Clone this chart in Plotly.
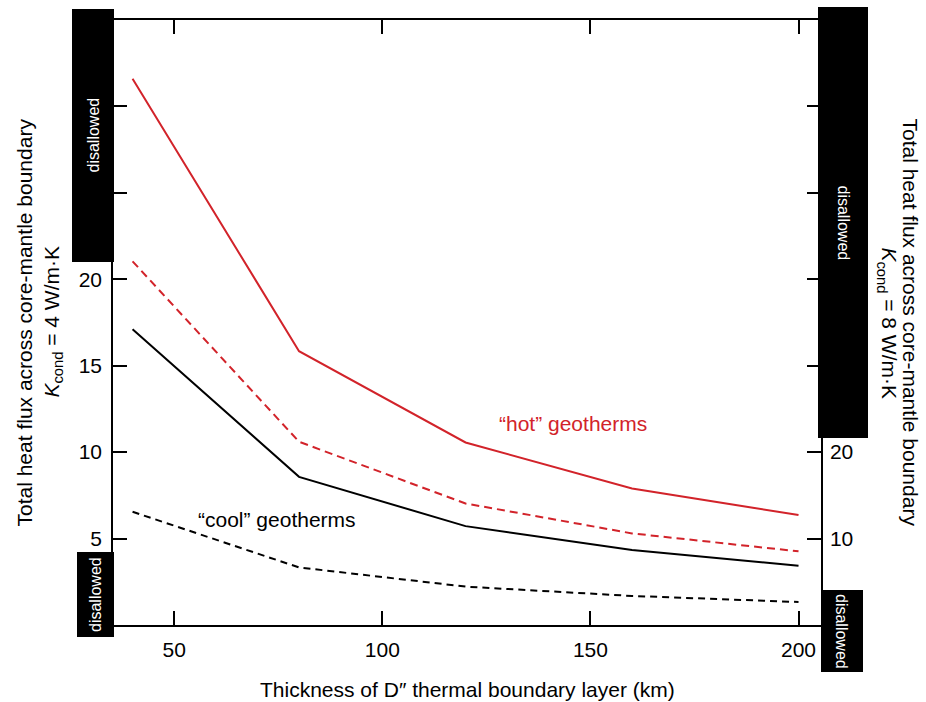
import plotly.graph_objects as go

# D'' layer thickness (km) and total core-mantle boundary heat flux (left-axis units)
thickness_km = [40, 80, 120, 160, 200]
hot_solid = [31.6, 15.84, 10.56, 7.9, 6.36]
hot_dashed = [21.04, 10.6, 7.03, 5.3, 4.26]
cool_solid = [17.11, 8.57, 5.72, 4.34, 3.43]
cool_dashed = [6.55, 3.33, 2.22, 1.68, 1.33]

x_ticks = [50, 100, 150, 200]
left_labeled = [5, 10, 15, 20]
left_unlabeled = [0, 25, 30, 35]
right_labeled = [10, 20]
right_unlabeled = [0, 30, 40, 50, 60, 70]

RED = "#d2232a"
FONT = "Liberation Sans, Arial, Helvetica, sans-serif"

W, H = 926, 702
ML, MR, MT, MB = 113, 105, 20, 77
PW, PH = W - ML - MR, H - MT - MB


def px(xp):
    return (xp - ML) / PW


def py(yp):
    return (H - MB - yp) / PH


fig = go.Figure()

series = [
    (hot_solid, RED, "solid"),
    (hot_dashed, RED, "8px,5px"),
    (cool_solid, "black", "solid"),
    (cool_dashed, "black", "7px,5px"),
]
for vals, color, dash in series:
    fig.add_trace(go.Scatter(
        x=thickness_km, y=vals, mode="lines",
        line=dict(color=color, width=2, dash=dash),
        showlegend=False, hoverinfo="skip",
    ))

# invisible trace so the secondary (right) axis is drawn
fig.add_trace(go.Scatter(x=[thickness_km[0]], y=[None], yaxis="y2",
                         showlegend=False, hoverinfo="skip"))

TICKLEN, TICKW = 14, 1.5
axis_common = dict(
    showgrid=False, zeroline=False, showline=True, linecolor="black",
    linewidth=1.5, ticks="inside", ticklen=TICKLEN, tickwidth=TICKW,
    tickcolor="black", tickfont=dict(family=FONT, size=21, color="black"),
)


def unlabeled(vals):
    return dict(tickmode="array", tickvals=vals, ticks="inside",
                ticklen=TICKLEN, tickwidth=TICKW, tickcolor="black",
                showgrid=False)


fig.update_layout(
    width=W, height=H,
    margin=dict(l=ML, r=MR, t=MT, b=MB),
    paper_bgcolor="white", plot_bgcolor="white",
    font=dict(family=FONT, color="black"),
    xaxis=dict(range=[35.3, 205.4], tickvals=x_ticks, mirror="ticks",
               ticklabelstandoff=5, **axis_common),
    yaxis=dict(range=[0, 35], tickvals=left_labeled,
               minor=unlabeled(left_unlabeled),
               ticklabelstandoff=5, **axis_common),
    yaxis2=dict(range=[0, 70], tickvals=right_labeled,
                minor=unlabeled(right_unlabeled),
                overlaying="y", side="right", ticklabelstandoff=3,
                **axis_common),
)

# "disallowed" regions beyond the axes
boxes = [
    (72, 114, 9, 262, -90),
    (77, 114, 552, 637, -90),
    (818, 868, 7, 438, 90),
    (821, 863, 590, 672, 90),
]
for x0, x1, y0, y1, ang in boxes:
    fig.add_shape(type="rect", xref="paper", yref="paper",
                  x0=px(x0), x1=px(x1), y0=py(y1), y1=py(y0),
                  fillcolor="black", line=dict(width=0), layer="above")
    fig.add_annotation(xref="paper", yref="paper",
                       x=px((x0 + x1) / 2), y=py((y0 + y1) / 2),
                       text="disallowed", textangle=ang, showarrow=False,
                       font=dict(family=FONT, size=16, color="white"),
                       xanchor="center", yanchor="middle")

# axis titles
title_font = dict(family=FONT, size=21, color="black")
fig.add_annotation(xref="paper", yref="paper", x=px(24), y=0.5,
                   text="Total heat flux across core-mantle boundary",
                   textangle=-90, showarrow=False, font=title_font,
                   xanchor="center", yanchor="middle")
fig.add_annotation(xref="paper", yref="paper", x=px(52), y=0.5,
                   text="<i>K</i><sub>cond</sub> = 4 W/m·K",
                   textangle=-90, showarrow=False, font=title_font,
                   xanchor="center", yanchor="middle")
fig.add_annotation(xref="paper", yref="paper", x=px(910), y=0.5,
                   text="Total heat flux across core-mantle boundary",
                   textangle=90, showarrow=False, font=title_font,
                   xanchor="center", yanchor="middle")
fig.add_annotation(xref="paper", yref="paper", x=px(888), y=0.5,
                   text="<i>K</i><sub>cond</sub> = 8 W/m·K",
                   textangle=90, showarrow=False, font=title_font,
                   xanchor="center", yanchor="middle")
fig.add_annotation(xref="paper", yref="paper", x=0.5, y=py(689),
                   text="Thickness of D″ thermal boundary layer (km)",
                   showarrow=False, font=title_font,
                   xanchor="center", yanchor="middle")

# curve group labels
fig.add_annotation(x=145.7, y=11.63, text="“hot” geotherms", showarrow=False,
                   font=dict(family=FONT, size=21, color=RED),
                   xanchor="center", yanchor="middle")
fig.add_annotation(x=74.7, y=6.1, text="“cool” geotherms", showarrow=False,
                   font=dict(family=FONT, size=21, color="black"),
                   xanchor="center", yanchor="middle")

fig.write_html("out.html")
